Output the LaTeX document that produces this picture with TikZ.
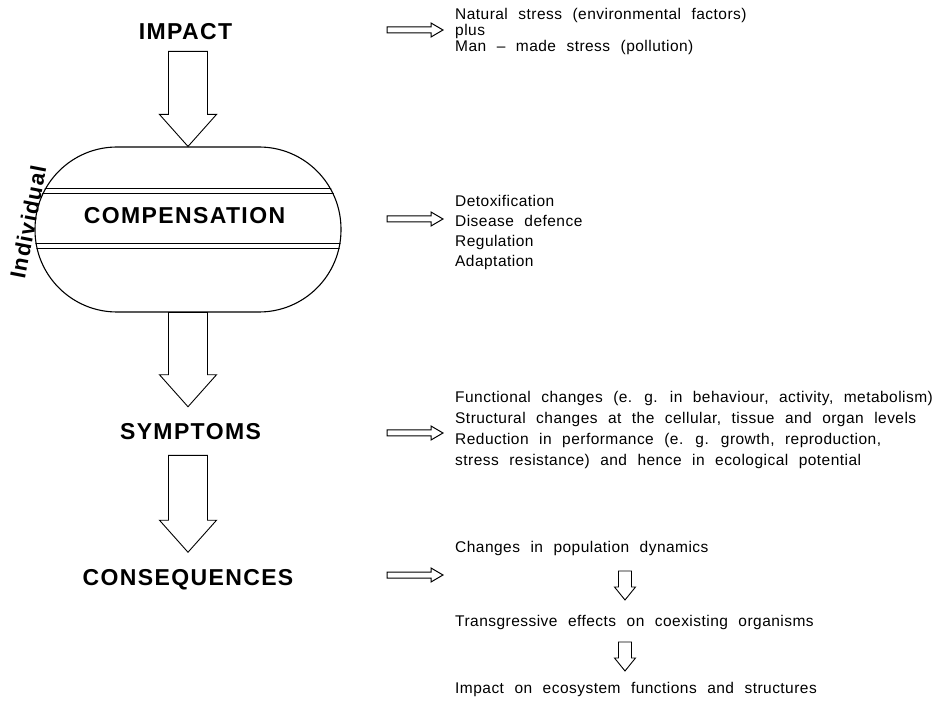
\documentclass[tikz,border=0pt]{standalone}
\usepackage{fontspec}
\usetikzlibrary{calc}
\newfontfamily\headfont{Liberation Sans}[LetterSpace=6]
\newfontfamily\listfont{Liberation Sans}[LetterSpace=3,WordSpace=2.2]

\begin{document}
\begin{tikzpicture}[
		x=1pt,
		y=-1pt,
		line join=miter,
		heading/.style={
			font=\headfont\bfseries\fontsize{23}{27}\selectfont,
			inner sep=0pt,
			anchor=base
		},
		listing/.style={
			font=\listfont\fontsize{15.5}{#1}\selectfont,
			align=left,
			inner sep=0pt,
			anchor=north west
		},
		listing/.default=20,
		capsule/.style={
			draw=black,
			line width=1.1pt,
			rounded corners=82pt,
			minimum width=306pt,
			minimum height=165pt,
			inner sep=0pt
		},
		band/.style={draw=black, line width=0.8pt},
		bigarrow/.style={
			draw=black,
			fill=white,
			line width=0.9pt,
			to path={
				let \p1=(\tikztostart), \p2=(\tikztotarget) in
				(\x1-19.5pt,\y1) -- (\x1+19.5pt,\y1) -- (\x1+19.5pt,\y2+32pt)
				-- (\x1+28.5pt,\y2+32pt) -- (\x1,\y2) -- (\x1-28.5pt,\y2+32pt)
				-- (\x1-19.5pt,\y2+32pt) -- cycle
			}
		},
		smallarrow/.style={
			draw=black,
			line width=1pt,
			to path={
				let \p1=(\tikztostart), \p2=(\tikztotarget) in
				(\x1,\y1+3pt) -- (\x2-12pt,\y1+3pt) -- (\x2-12pt,\y1+7pt)
				-- (\x2,\y1) -- (\x2-12pt,\y1-7pt) -- (\x2-12pt,\y1-3pt)
				-- (\x1,\y1-3pt) -- cycle
			}
		},
		downarrow/.style={
			draw=black,
			line width=0.9pt,
			to path={
				let \p1=(\tikztostart), \p2=(\tikztotarget) in
				(\x1-6.5pt,\y1) -- (\x1+6.5pt,\y1) -- (\x1+6.5pt,\y2+13pt)
				-- (\x1+10.5pt,\y2+13pt) -- (\x1,\y2) -- (\x1-10.5pt,\y2+13pt)
				-- (\x1-6.5pt,\y2+13pt) -- cycle
			}
		}
		]
		
		% page frame
		\useasboundingbox (0,0) rectangle (938,703);
		
		% the individual
		\node[capsule] (ind) at (188,229.5) {};
		\begin{scope}
			\clip[rounded corners=82pt] (ind.south west) rectangle (ind.north east);
			\foreach \yy in {188,193,243,248}
				\draw[band] (ind.west |- 0,\yy) -- (ind.east |- 0,\yy);
		\end{scope}
		\node[heading, anchor=center, rotate=79, font=\headfont\bfseries\fontsize{22}{26}\selectfont]
			(indiv) at (28,222) {Individual};
		
		% main chain
		\node[heading] (impact)   at (185.5,40)  {IMPACT};
		\node[heading] (comp)     at (184.5,224) {COMPENSATION};
		\node[heading] (symptoms) at (190.5,440) {SYMPTOMS};
		\node[heading] (conseq)   at (188,585)   {CONSEQUENCES};
		
		\draw[bigarrow] ($(impact.south -| ind.north)+(0,11)$) to (ind.north);
		\draw[bigarrow] (ind.south) to ($(symptoms.north -| ind.south)+(0,-17)$);
		\draw[bigarrow] ($(symptoms.south -| ind.south)+(0,15)$) to ($(conseq.north -| ind.south)+(0,-16.5)$);
		
		% explanations
		\node[listing=16] (stress) at (455,8)
			{Natural stress (environmental factors)\\plus\\Man – made stress (pollution)};
		\node[listing] (defence) at (455,195)
			{Detoxification\\Disease defence\\Regulation\\Adaptation};
		\node[listing=21] (effects) at (455,391)
			{Functional changes (e. g. in behaviour, activity, metabolism)\\
			 Structural changes at the cellular, tissue and organ levels\\
			 Reduction in performance (e. g. growth, reproduction,\\
			 stress resistance) and hence in ecological potential};
		\node[listing, anchor=base west] (popul)   at (455,552) {Changes in population dynamics};
		\node[listing, anchor=base west] (coexist) at (455,626) {Transgressive effects on coexisting organisms};
		\node[listing, anchor=base west] (ecosys)  at (455,693) {Impact on ecosystem functions and structures};
		
		% pointers
		\coordinate (s1) at (387,30);
		\coordinate (s2) at (387,219);
		\coordinate (s3) at (387,433);
		\coordinate (s4) at (387,575);
		\draw[smallarrow] (s1) to ($(s1 -| stress.west)+(-12,0)$);
		\draw[smallarrow] (s2) to ($(s2 -| defence.west)+(-12,0)$);
		\draw[smallarrow] (s3) to ($(s3 -| effects.west)+(-12,0)$);
		\draw[smallarrow] (s4) to ($(s4 -| popul.west)+(-12,0)$);
		
		\draw[downarrow] ($(popul.base west)+(170,19)$) to ($(coexist.base west)+(170,-26)$);
		\draw[downarrow] ($(coexist.base west)+(170,16)$) to ($(ecosys.base west)+(170,-22)$);
\end{tikzpicture}
\end{document}
